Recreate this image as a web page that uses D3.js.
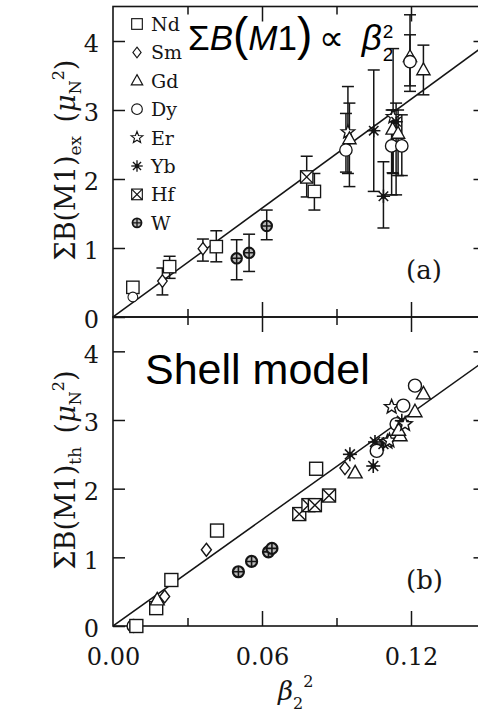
<!DOCTYPE html>
<html><head><meta charset="utf-8">
<script src="https://cdn.jsdelivr.net/npm/d3@7"></script>
<style>body{margin:0;background:#fff} svg{display:block}</style>
</head><body><svg id="c" width="478" height="724"></svg>
<script>
// ---------- DATA ----------
const legendElements = ["Nd","Sm","Gd","Dy","Er","Yb","Hf","W"];

// panel (a): experimental sum B(M1) with error bars
const expEl = ["Nd","Dy","Sm","Nd","Sm","Nd","W","W","W","Hf","Nd","Er","Gd","Dy","Yb","Yb","Er","Yb","Gd","Gd","Dy","Dy","Gd","Dy","Gd"];
const expX  = [0.0080,0.0080,0.0199,0.0228,0.0362,0.0416,0.0498,0.0548,0.0619,0.0780,0.0811,0.0946,0.0952,0.0938,0.1050,0.1089,0.1128,0.1140,0.1126,0.1148,0.1122,0.1163,0.1196,0.1196,0.1250];
const expY  = [0.43,0.29,0.52,0.73,0.99,1.02,0.85,0.93,1.32,2.03,1.82,2.68,2.58,2.42,2.70,1.75,2.90,2.83,2.72,2.66,2.48,2.48,3.77,3.70,3.58];
const expLo = [null,null,0.32,0.56,0.81,0.80,0.54,0.66,1.12,1.74,1.55,2.08,1.89,2.10,1.82,1.29,2.08,1.77,2.09,2.05,1.77,2.05,3.27,3.35,3.22];
const expHi = [null,null,0.71,0.88,1.13,1.25,1.12,1.20,1.55,2.33,2.08,3.34,3.10,2.95,3.58,2.25,3.89,3.10,3.00,3.00,3.00,2.93,4.38,4.09,3.94];

// panel (b): shell model sum B(M1)
const thEl = ["Dy","Nd","Nd","Gd","Sm","Nd","Sm","Nd","W","W","W","W","Hf","Hf","Hf","Hf","Nd","Sm","Yb","Gd","Yb","Yb","Dy","Yb","Er","Er","Dy","Gd","Gd","Yb","Er","Er","Dy","Gd","Dy","Gd"];
const thX  = [0.0083,0.0094,0.0174,0.0178,0.0208,0.0235,0.0376,0.0419,0.0505,0.0558,0.0626,0.0640,0.0750,0.0787,0.0813,0.0870,0.0818,0.0934,0.0954,0.0975,0.1048,0.1055,0.1062,0.1089,0.1105,0.1113,0.1142,0.1156,0.1150,0.1163,0.1176,0.1122,0.1169,0.1216,0.1216,0.1250];
const thY  = [0.00,0.00,0.26,0.38,0.43,0.67,1.11,1.39,0.79,0.94,1.08,1.13,1.63,1.76,1.76,1.90,2.29,2.30,2.50,2.23,2.33,2.68,2.55,2.65,2.68,2.70,2.94,2.77,2.85,2.99,2.94,3.19,3.21,3.12,3.50,3.38];

const fitSlope = [26.3, 25.8];           // sum B(M1) ∝ β2^2
const xMajorTicks = [0, 0.06, 0.12];
const xMinorTicks = [0.03, 0.09];
const yTicks = [0, 1, 2, 3, 4];
const panelTags = ["(a)", "(b)"];

// ---------- LAYOUT ----------
const svg = d3.select("#c");
const L = 113, R = 485.5;
const x = d3.scaleLinear().domain([0, 0.15]).range([L, R]);
const yA = d3.scaleLinear().domain([0, 4.5]).range([317, 6.5]);
const yB = d3.scaleLinear().domain([0, 4.5]).range([626, 317]);
const serif = "'DejaVu Serif', serif";
const sans = "'Liberation Sans', Arial, sans-serif";
const INK = "#151515";

function drawSymbol(g, el, cx, cy, k) {
  const s = g.append("g").attr("transform", `translate(${cx},${cy}) scale(${k})`)
    .attr("fill", "#fff").attr("stroke", INK).attr("stroke-width", 1.4);
  if (el === "Nd") {
    s.append("rect").attr("x", -6.5).attr("y", -6.5).attr("width", 13).attr("height", 13);
  } else if (el === "Sm") {
    s.append("path").attr("d", "M0,-6.5L5,0L0,6.5L-5,0Z");
  } else if (el === "Gd") {
    s.append("path").attr("d", "M0,-7.5L7,5L-7,5Z");
  } else if (el === "Dy") {
    s.append("circle").attr("r", 6.5);
  } else if (el === "Er") {
    const pts = d3.range(10).map(i => {
      const r = i % 2 ? 3.2 : 7.5, a = -Math.PI / 2 + i * Math.PI / 5;
      return [r * Math.cos(a), r * Math.sin(a)];
    });
    s.append("path").attr("d", "M" + pts.join("L") + "Z");
  } else if (el === "Yb") {
    for (let i = 0; i < 4; i++) {
      const a = i * Math.PI / 4;
      s.append("line").attr("x1", -7 * Math.cos(a)).attr("y1", -7 * Math.sin(a))
        .attr("x2", 7 * Math.cos(a)).attr("y2", 7 * Math.sin(a)).attr("stroke-width", 1.6);
    }
    s.append("circle").attr("r", 2).attr("fill", INK);
  } else if (el === "Hf") {
    s.append("rect").attr("x", -6.5).attr("y", -6.5).attr("width", 13).attr("height", 13);
    s.append("path").attr("d", "M-6.5,-6.5L6.5,6.5M6.5,-6.5L-6.5,6.5").attr("fill", "none");
  } else if (el === "W") {
    s.append("circle").attr("r", 5.5).attr("stroke-width", 2.2).attr("fill", "#bbb");
    s.append("path").attr("d", "M-5.5,0H5.5M0,-5.5V5.5").attr("stroke-width", 1.6);
  }
}

function axisStyle(g) {
  g.select(".domain").remove();
  g.selectAll(".tick line").attr("stroke", INK).attr("stroke-width", 1.5);
  g.selectAll(".tick text").attr("font-family", serif).attr("font-size", 24).attr("fill", INK);
}

function panel(ys, top, bottom, idx) {
  const g = svg.append("g");
  g.append("g").attr("transform", `translate(${L},0)`)
    .call(d3.axisLeft(ys).tickValues(yTicks).tickSize(-12).tickPadding(14).tickFormat(d3.format("d")))
    .call(axisStyle).call(a => a.selectAll(".tick text").attr("dy", "0.45em"));
  g.append("g").attr("transform", `translate(${R},0)`)
    .call(d3.axisRight(ys).tickValues(yTicks.slice(1)).tickSize(-12).tickFormat(""))
    .call(axisStyle);
  g.append("g").attr("transform", `translate(0,${top})`)
    .call(d3.axisTop(x).tickValues(xMajorTicks.slice(1)).tickSize(-15).tickFormat("")).call(axisStyle);
  g.append("g").attr("transform", `translate(0,${top})`)
    .call(d3.axisTop(x).tickValues(xMinorTicks).tickSize(-8).tickFormat("")).call(axisStyle);
  g.append("g").attr("transform", `translate(0,${bottom})`)
    .call(d3.axisBottom(x).tickValues(xMajorTicks.slice(1)).tickSize(-15).tickFormat("")).call(axisStyle);
  g.append("g").attr("transform", `translate(0,${bottom})`)
    .call(d3.axisBottom(x).tickValues(xMinorTicks).tickSize(-8).tickFormat("")).call(axisStyle);
  g.append("rect").attr("x", L).attr("y", top).attr("width", R - L).attr("height", bottom - top)
    .attr("fill", "none").attr("stroke", INK).attr("stroke-width", 1.6);
  const clipId = "clip" + idx;
  svg.append("clipPath").attr("id", clipId).append("rect")
    .attr("x", L).attr("y", top).attr("width", R - L).attr("height", bottom - top);
  g.append("line").attr("clip-path", `url(#${clipId})`)
    .attr("x1", x(0)).attr("y1", ys(0)).attr("x2", x(0.15)).attr("y2", ys(0.15 * fitSlope[idx]))
    .attr("stroke", INK).attr("stroke-width", 1.5);
  g.append("text").attr("x", 406).attr("y", idx === 0 ? 279 : 589)
    .attr("font-family", serif).attr("font-size", 26).attr("fill", INK).text(panelTags[idx]);
  return g;
}

panel(yA, 6.5, 317, 0);
panel(yB, 317, 626, 1);

// bottom tick labels
svg.append("g").attr("transform", "translate(0,626)")
  .call(d3.axisBottom(x).tickValues(xMajorTicks).tickSize(0).tickPadding(22).tickFormat(d3.format(".2f")))
  .call(axisStyle);

// error bars (panel a)
const eb = svg.append("g").attr("stroke", INK).attr("stroke-width", 1.5);
expEl.forEach((el, i) => {
  if (expLo[i] == null) return;
  const cx = x(expX[i]);
  eb.append("line").attr("x1", cx).attr("x2", cx).attr("y1", yA(expLo[i])).attr("y2", yA(expHi[i]));
  [expLo[i], expHi[i]].forEach(v => eb.append("line")
    .attr("x1", cx - 6).attr("x2", cx + 6).attr("y1", yA(v)).attr("y2", yA(v)));
});
const mA = svg.append("g");
expEl.forEach((el, i) => drawSymbol(mA, el, x(expX[i]), yA(expY[i]), el === "Dy" && i === 1 ? 0.75 : 0.95));
const mB = svg.append("g");
thEl.forEach((el, i) => drawSymbol(mB, el, x(thX[i]), yB(thY[i]), 1));

// legend
const lg = svg.append("g");
legendElements.forEach((el, i) => {
  const cy = 29 + i * 28.4;
  drawSymbol(lg, el, 137, cy - 5, 0.82);
  lg.append("text").attr("x", 151).attr("y", cy + 2).attr("font-family", serif)
    .attr("font-size", 19).attr("fill", INK).text(el);
});

// formula title
const t = svg.append("text").attr("x", 188).attr("y", 50).attr("font-family", sans)
  .attr("font-size", 35).attr("fill", "#000");
t.append("tspan").text("Σ");
t.append("tspan").attr("font-style", "italic").text("B");
t.append("tspan").attr("font-size", 46).text("(");
t.append("tspan").attr("font-style", "italic").text("M");
t.append("tspan").text("1");
t.append("tspan").attr("font-size", 46).text(")");
t.append("tspan").text("\u2009\u221D\u2002");
t.append("tspan").attr("font-style", "italic").text("β");
const tl = t.node().getComputedTextLength();
svg.append("text").attr("x", 188 + tl + 1).attr("y", 38).attr("font-family", sans)
  .attr("font-size", 19).text("2");
svg.append("text").attr("x", 188 + tl + 1).attr("y", 61).attr("font-family", sans)
  .attr("font-size", 19).text("2");

// Shell model
svg.append("text").attr("x", 145).attr("y", 384).attr("font-family", sans)
  .attr("font-size", 43).attr("fill", "#000").text("Shell model");

// y-axis labels
function yLabel(cy, sub) {
  const tx = svg.append("text").attr("transform", `translate(75,${cy}) rotate(-90)`)
    .attr("text-anchor", "middle").attr("font-family", serif).attr("font-size", 27).attr("fill", INK);
  tx.append("tspan").text("ΣB(M1)");
  tx.append("tspan").attr("font-size", 17).attr("dy", 6).text(sub);
  tx.append("tspan").attr("dy", -6).text("\u2002(");
  tx.append("tspan").attr("font-style", "italic").text("μ");
  tx.append("tspan").attr("font-size", 16).attr("dy", 6).text("N");
  tx.append("tspan").attr("font-size", 16).attr("dy", -17).text("2");
  tx.append("tspan").attr("dy", 11).text(")");
}
yLabel(160, "ex");
yLabel(470, "th");

// x-axis label
const xl = svg.append("text").attr("x", 278).attr("y", 700).attr("font-family", serif)
  .attr("font-size", 26).attr("fill", INK);
xl.append("tspan").attr("font-style", "italic").text("β");
xl.append("tspan").attr("font-size", 16).attr("dy", 9).text("2");
xl.append("tspan").attr("font-size", 16).attr("dy", -22).text("2");
</script></body></html>
